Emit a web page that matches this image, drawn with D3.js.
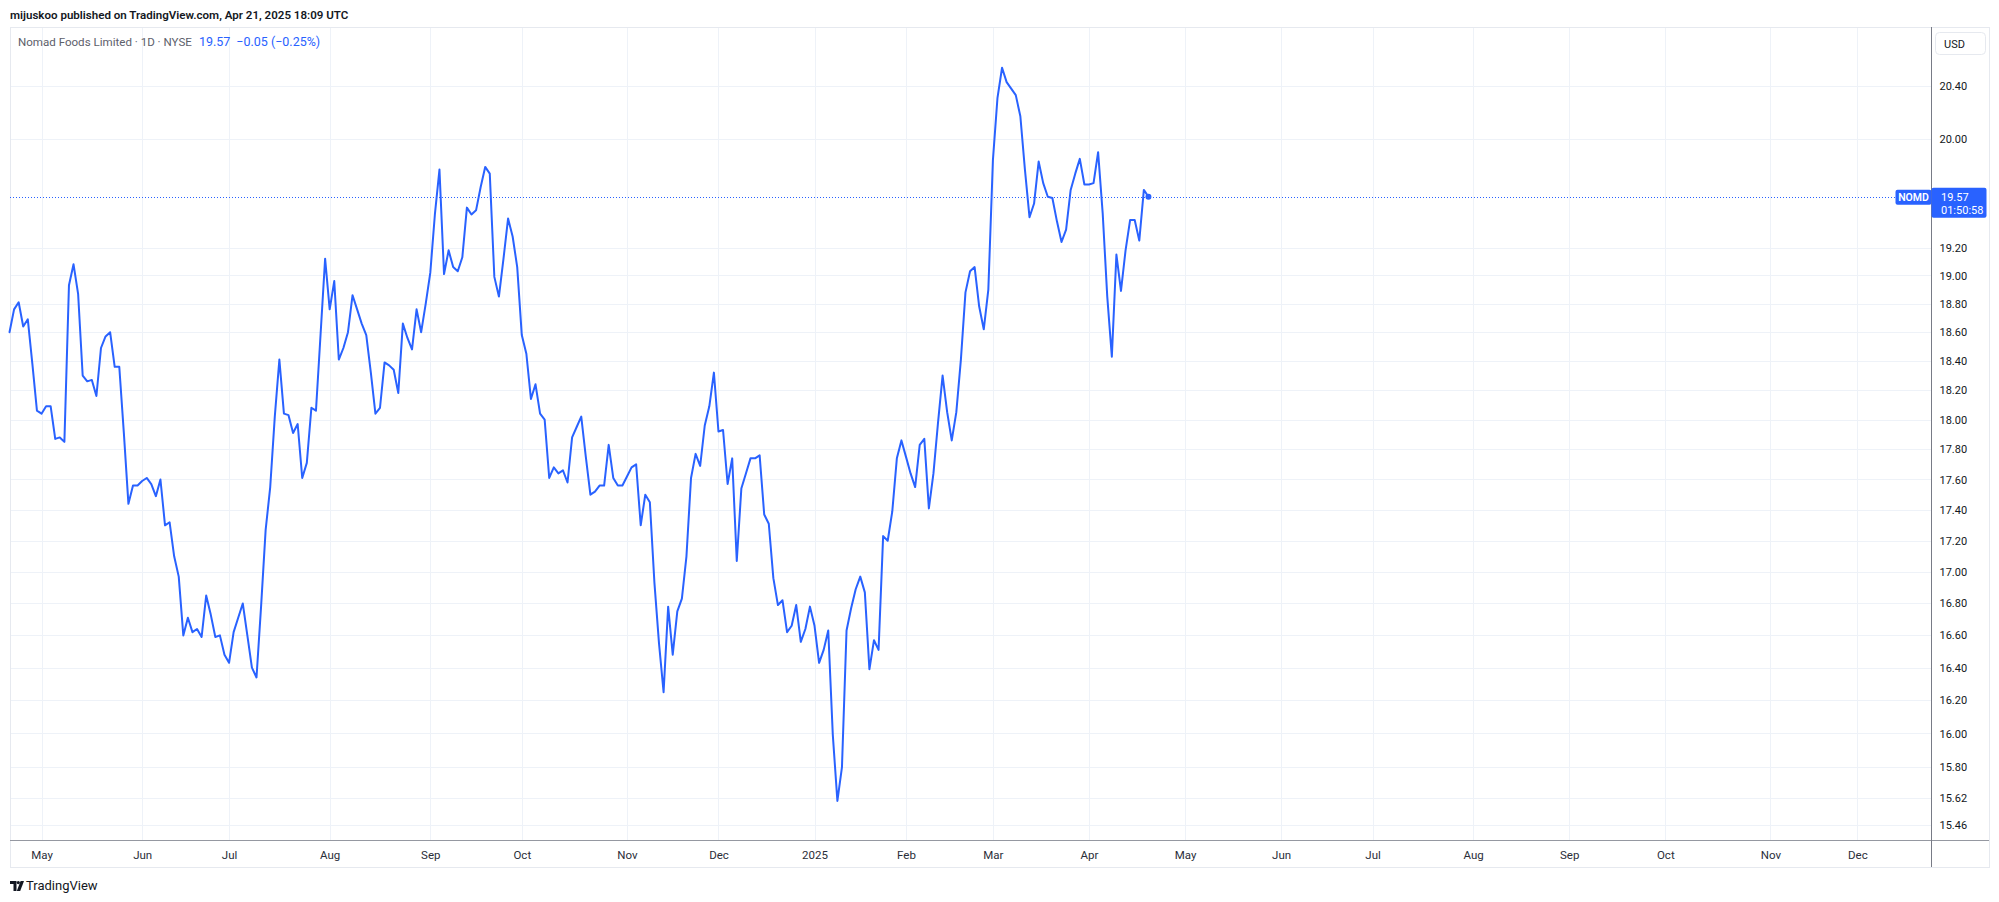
<!DOCTYPE html>
<html><head><meta charset="utf-8">
<script src="https://cdn.jsdelivr.net/npm/d3@7"></script>
<style>
html,body{margin:0;padding:0;background:#fff;}
svg{display:block;font-family:Roboto,"Liberation Sans",sans-serif;}
</style></head>
<body><svg id="chart" width="1999" height="902"></svg>
<script>
// ---- data (daily closes, NOMD, Apr 22 2024 – Apr 21 2025, one per trading day) ----
const closes = [
18.60,18.76,18.81,18.64,18.69,18.38,18.06,18.04,18.09,18.09,
17.87,17.88,17.85,18.93,19.08,18.87,18.30,18.26,18.27,18.16,
18.49,18.57,18.60,18.36,18.36,17.91,17.44,17.56,17.56,17.59,
17.61,17.57,17.49,17.60,17.30,17.32,17.10,16.97,16.60,16.71,
16.62,16.64,16.59,16.85,16.73,16.59,16.60,16.48,16.43,16.62,
16.71,16.80,16.60,16.40,16.34,16.78,17.27,17.55,18.02,18.41,
18.04,18.03,17.91,17.97,17.61,17.71,18.08,18.06,18.58,19.12,
18.76,18.96,18.41,18.49,18.60,18.86,18.76,18.66,18.58,18.32,
18.04,18.08,18.39,18.37,18.34,18.18,18.66,18.56,18.48,18.76,
18.60,18.80,19.02,19.44,19.77,19.01,19.18,19.06,19.03,19.13,
19.49,19.44,19.47,19.64,19.79,19.74,18.99,18.85,19.12,19.41,
19.28,19.06,18.58,18.45,18.14,18.24,18.04,18.00,17.61,17.68,
17.64,17.66,17.58,17.88,17.95,18.02,17.75,17.50,17.52,17.56,
17.56,17.83,17.61,17.56,17.56,17.62,17.68,17.70,17.30,17.50,
17.45,16.93,16.55,16.25,16.78,16.48,16.75,16.83,17.10,17.61,
17.77,17.69,17.96,18.09,18.32,17.92,17.93,17.57,17.74,17.07,
17.54,17.64,17.74,17.74,17.76,17.37,17.31,16.96,16.79,16.82,
16.62,16.66,16.79,16.56,16.64,16.78,16.66,16.43,16.51,16.63,
15.99,15.60,15.80,16.63,16.77,16.89,16.97,16.87,16.39,16.57,
16.51,17.23,17.20,17.39,17.74,17.86,17.75,17.64,17.55,17.83,
17.87,17.41,17.64,17.98,18.30,18.05,17.86,18.05,18.41,18.88,
19.03,19.06,18.78,18.62,18.90,19.84,20.31,20.54,20.43,20.38,
20.33,20.17,19.77,19.42,19.52,19.83,19.67,19.57,19.56,19.39,
19.24,19.33,19.62,19.74,19.85,19.66,19.66,19.67,19.90,19.45,
18.85,18.43,19.15,18.89,19.18,19.40,19.40,19.25,19.62,19.57
];
// month tick labels and the trading-day index of each month's first session
const monthLabels = ["May","Jun","Jul","Aug","Sep","Oct","Nov","Dec","2025","Feb","Mar","Apr","May","Jun","Jul","Aug","Sep","Oct","Nov","Dec"];
const monthIndex  = [7,29,48,70,92,112,135,155,176,196,215,236,257,278,298,320,341,362,385,404];
// price scale tick labels
const priceTicks = [20.40,20.00,19.20,19.00,18.80,18.60,18.40,18.20,18.00,17.80,17.60,17.40,17.20,17.00,16.80,16.60,16.40,16.20,16.00,15.80,15.62,15.46];
const symbol = "NOMD";
const title = "Nomad Foods Limited · 1D · NYSE";
const lastPrice = 19.57, change = -0.05, changePct = -0.25;
const countdown = "01:50:58";
const header = "mijuskoo published on TradingView.com, Apr 21, 2025 18:09 UTC";

// ---- layout ----
const frame = {l:10, t:27, r:1989, b:867};
const axisX = 1931.5, axisY = 840.5;
const blue = "#2962ff", grid = "#eef2f8", text = "#131722";

const svg = d3.select("#chart");

const x = d3.scaleLinear().domain([0, 404]).range([9.5, 9.5 + 404*4.574]);
const y = d3.scaleLog().domain([15.46, 20.40]).range([825, 86]);

function fitText(sel, maxW) {
  const n = sel.node();
  const w = n.getComputedTextLength();
  if (w > maxW) sel.attr("font-size", parseFloat(sel.attr("font-size")) * maxW / w);
  return sel;
}

// grid
svg.append("g").selectAll("line").data(priceTicks).join("line")
  .attr("x1", frame.l).attr("x2", axisX)
  .attr("y1", d => Math.round(y(d))+0.5).attr("y2", d => Math.round(y(d))+0.5)
  .attr("stroke", grid).attr("stroke-width", 1);
svg.append("g").selectAll("line").data(monthIndex).join("line")
  .attr("x1", d => Math.round(x(d))+0.5).attr("x2", d => Math.round(x(d))+0.5)
  .attr("y1", frame.t).attr("y2", axisY)
  .attr("stroke", grid).attr("stroke-width", 1);

// frame
svg.append("rect").attr("x", frame.l+0.5).attr("y", frame.t+0.5)
  .attr("width", frame.r-frame.l).attr("height", frame.b-frame.t)
  .attr("fill","none").attr("stroke","#e6e9ef");

// price line (dotted)
svg.append("line").attr("x1", frame.l).attr("x2", axisX-36)
  .attr("y1", Math.round(y(lastPrice))+0.5).attr("y2", Math.round(y(lastPrice))+0.5)
  .attr("stroke", blue).attr("stroke-width",1).attr("stroke-dasharray","1,2");

// series
const line = d3.line().x((d,i) => x(i)).y(d => y(d));
svg.append("path").datum(closes).attr("d", line)
  .attr("fill","none").attr("stroke", blue).attr("stroke-width", 2)
  .attr("stroke-linejoin","round").attr("stroke-linecap","round");
svg.append("circle").attr("cx", x(closes.length-1)).attr("cy", y(closes[closes.length-1]))
  .attr("r", 3).attr("fill", blue);

// axes lines
svg.append("line").attr("x1", frame.l).attr("x2", frame.r).attr("y1", axisY).attr("y2", axisY)
  .attr("stroke","#9598a1").attr("stroke-width",1);
svg.append("line").attr("x1", axisX).attr("x2", axisX).attr("y1", frame.t).attr("y2", frame.b)
  .attr("stroke","#787b86").attr("stroke-width",1);

// y axis
const yAxis = d3.axisRight(y).tickValues(priceTicks).tickFormat(d3.format(".2f")).tickSize(0).tickPadding(8);
const gy = svg.append("g").attr("transform", `translate(${axisX},0)`).call(yAxis);
gy.select(".domain").remove();
gy.selectAll("text").attr("fill", text).attr("font-size", 11).attr("font-family","Roboto, sans-serif");

// x axis
const xAxis = d3.axisBottom(x).tickValues(monthIndex).tickFormat((d,i) => monthLabels[i]).tickSize(0).tickPadding(10);
const gx = svg.append("g").attr("transform", `translate(0,${axisY})`).call(xAxis);
gx.select(".domain").remove();
gx.selectAll("text").attr("fill", "#2a2e39").attr("font-size", 11.5).attr("font-family","Roboto, sans-serif");

// USD box
svg.append("rect").attr("x",1935.5).attr("y",32.5).attr("width",50).attr("height",22).attr("rx",4)
  .attr("fill","#fff").attr("stroke","#e6e9ef");
svg.append("text").attr("x",1944).attr("y",47.5).text("USD").attr("fill",text).attr("font-size",11);

// last price label
const ly = y(lastPrice);
svg.append("rect").attr("x",axisX).attr("y",ly-9).attr("width",55).attr("height",30).attr("rx",2).attr("fill",blue);
svg.append("text").attr("x",1941).attr("y",ly+4).text(d3.format(".2f")(lastPrice)).attr("fill","#fff").attr("font-size",11);
svg.append("text").attr("x",1941).attr("y",ly+17).text(countdown).attr("fill","#fff").attr("font-size",11);
svg.append("rect").attr("x",axisX-36).attr("y",ly-7).attr("width",36).attr("height",15).attr("rx",2).attr("fill",blue);
svg.append("text").attr("x",axisX-18).attr("y",ly+4).attr("text-anchor","middle").text(symbol)
  .attr("fill","#fff").attr("font-size",10.5).attr("font-weight",600);

// header + legend
fitText(svg.append("text").attr("x",10).attr("y",19).text(header).attr("fill",text)
  .attr("font-size",12).attr("font-weight",600), 339);
const t1 = fitText(svg.append("text").attr("x",18).attr("y",46).text(title).attr("fill","#5d606b").attr("font-size",12.5), 174);
const t1End = 18 + t1.node().getComputedTextLength();
const t2 = svg.append("text").attr("x",t1End+7).attr("y",46).text(d3.format(".2f")(lastPrice)).attr("fill",blue).attr("font-size",12.5);
const t2End = t1End + 7 + t2.node().getComputedTextLength();
svg.append("text").attr("x",t2End+6).attr("y",46)
  .text(`${d3.format(".2f")(change).replace("-","−")} (${d3.format(".2f")(changePct).replace("-","−")}%)`)
  .attr("fill",blue).attr("font-size",12.5);

// TradingView logo
const logo = svg.append("g").attr("transform","translate(10,881)").attr("fill",text);
logo.append("path").attr("d","M0 0H6.5V10H3.5V3H0Z");
logo.append("circle").attr("cx",8.3).attr("cy",1.6).attr("r",1.6);
logo.append("path").attr("d","M10.6 0H14L10.2 10H6.8Z");
svg.append("text").attr("x",26).attr("y",890).text("TradingView").attr("fill",text).attr("font-size",13);
</script>
</body></html>
